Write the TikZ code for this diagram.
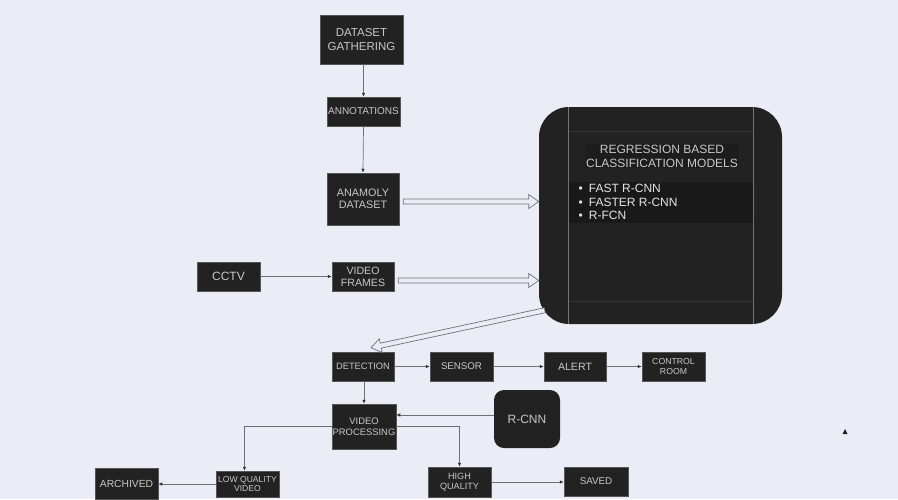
\documentclass[tikz,border=0pt]{standalone}
\usepackage{fontspec}
\setmainfont{Liberation Sans}
\usetikzlibrary{arrows.meta,calc}

\definecolor{bgcol}{RGB}{236,236,246}
\definecolor{boxfill}{RGB}{34,34,34}
\definecolor{boxline}{RGB}{85,85,85}
\definecolor{boxtext}{RGB}{200,200,200}
\definecolor{wirecol}{RGB}{112,112,112}
\definecolor{listfill}{RGB}{25,25,25}
\definecolor{titlefill}{RGB}{29,29,29}
\definecolor{splitcol}{RGB}{118,118,118}
\definecolor{bandline}{RGB}{52,52,52}

\newcommand{\fsz}[2]{\fontsize{#1}{#2}\selectfont}
\newcommand{\fatarrow}[2]{%
  \coordinate (fa-h) at ($(#2)!10pt!(#1)$);
  \draw[fatline] ($(#1)!2.5pt!90:(#2)$) -- ($(fa-h)!2.5pt!90:(#2)$) -- ($(fa-h)!7pt!90:(#2)$)
    -- (#2) -- ($(fa-h)!7pt!-90:(#2)$) -- ($(fa-h)!2.5pt!-90:(#2)$) -- ($(#1)!2.5pt!-90:(#2)$) -- cycle;}

\tikzset{
  box/.style={draw=boxline, line width=0.5pt, fill=boxfill, text=boxtext, align=center, inner sep=0pt},
  wire/.style={draw=wirecol, line width=0.7pt, -{Latex[length=4pt,width=3.5pt,color=black!80]}},
  fatline/.style={draw=wirecol, fill=bgcol, line width=0.7pt, line join=miter},
}

\begin{document}
\begin{tikzpicture}[x=1pt,y=-1pt]
	\fill[bgcol] (0,0) rectangle (898,499);
	\useasboundingbox (0,0) rectangle (898,499);

	\node[box, minimum width=83pt, minimum height=49pt, font=\fsz{11.5}{14}] (gather) at (361.5,39.5) {DATASET\\GATHERING};
	\node[box, minimum width=73pt, minimum height=29pt, font=\fsz{10}{12}] (annot) at (363.5,111.5) {ANNOTATIONS};
	\node[box, minimum width=72pt, minimum height=52pt, font=\fsz{10.8}{12.5}] (anomaly) at (363,199) {ANAMOLY\\DATASET};
	\node[box, minimum width=63pt, minimum height=29pt, font=\fsz{12}{14}] (cctv) at (228.5,276.5) {CCTV};
	\node[box, minimum width=62pt, minimum height=29pt, font=\fsz{10.6}{12}] (frames) at (363,276.5) {VIDEO\\FRAMES};

	\node[box, draw=none, rounded corners=30pt, minimum width=243pt, minimum height=217pt] (models) at (660.5,215.5) {};
	\fill[listfill] ($(models.north west)+(30,75)$) rectangle ($(models.north east)+(-29,116)$);
	\draw[bandline, line width=0.5pt] ($(models.north west)+(30,24)$) -- ($(models.north east)+(-29,24)$);
	\draw[bandline, line width=0.5pt] ($(models.south west)+(30,-23)$) -- ($(models.south east)+(-29,-23)$);
	\draw[splitcol, line width=0.7pt] ($(models.north west)+(30,0)$) -- ($(models.south west)+(30,0)$);
	\draw[splitcol, line width=0.7pt] ($(models.north east)+(-29,0)$) -- ($(models.south east)+(-29,0)$);
	\node[fill=titlefill, text=boxtext, align=center, inner sep=1pt, font=\fsz{12}{14}] (title) at (662,156) {REGRESSION BASED\\CLASSIFICATION MODELS};
	\node[anchor=west, text=black!10, align=left, inner sep=0pt, font=\fsz{12}{13.5}] (list) at (578.5,202) {\textbullet\hspace{6pt}FAST R-CNN\\\textbullet\hspace{6pt}FASTER R-CNN\\\textbullet\hspace{6pt}R-FCN};

	\node[box, minimum width=62pt, minimum height=29pt, font=\fsz{9.3}{11}] (detect) at (363,366.5) {DETECTION};
	\node[box, minimum width=63pt, minimum height=29pt, font=\fsz{9.7}{11}] (sensor) at (461.5,366.5) {SENSOR};
	\node[box, minimum width=62pt, minimum height=29pt, font=\fsz{10.6}{12}] (alert) at (575,366.5) {ALERT};
	\node[box, minimum width=63pt, minimum height=29pt, font=\fsz{8.7}{10}] (control) at (673.5,366.5) {CONTROL\\ROOM};
	\node[box, minimum width=64pt, minimum height=45pt, font=\fsz{9.4}{11}] (vproc) at (364,426.5) {VIDEO\\PROCESSING};
	\node[box, draw=none, rounded corners=10pt, minimum width=66pt, minimum height=58pt, font=\fsz{12}{14}] (rcnn) at (527,419) {R-CNN};
	\node[box, minimum width=63pt, minimum height=26pt, font=\fsz{8.6}{9.5}] (lowq) at (247.5,484) {LOW QUALITY\\VIDEO};
	\node[box, minimum width=63pt, minimum height=31pt, font=\fsz{10.3}{12}] (archived) at (126.5,483.5) {ARCHIVED};
	\node[box, minimum width=63pt, minimum height=30pt, font=\fsz{9.1}{9.7}] (highq) at (459.5,482) {HIGH\\QUALITY};
	\node[box, minimum width=64pt, minimum height=29pt, font=\fsz{9.8}{11}] (saved) at (596,481.5) {SAVED};

	\draw[wire] (annot.north |- gather.south) -- (annot.north);
	\draw[wire] (annot.south) -- (anomaly.north);
	\draw[wire] (cctv.east) -- (frames.west);
	\draw[wire] (detect.east) -- (sensor.west);
	\draw[wire] (sensor.east) -- (alert.west);
	\draw[wire] (alert.east) -- (control.west);
	\draw[wire] (vproc.north |- detect.south) -- (vproc.north);
	\coordinate (rin) at ($(rcnn.west)+(0,-4)$);
	\draw[wire] (rin) -- (rin -| vproc.east);
	\draw[wire] (vproc.west) -| ($(lowq.north)+(-3,0)$);
	\draw[wire] (vproc.east) -| (highq.north);
	\draw[wire] (lowq.west) -- (lowq.west -| archived.east);
	\draw[wire] (highq.east) -- (highq.east -| saved.west);

	\coordinate (a1s) at ($(anomaly.east)+(4,2.5)$);
	\coordinate (a1e) at (a1s -| models.west);
	\fatarrow{a1s}{a1e}
	\coordinate (a2s) at ($(frames.east)+(4,4)$);
	\coordinate (a2e) at (a2s -| models.west);
	\fatarrow{a2s}{a2e}
	\coordinate (a3s) at ($(models.south west)+(6,-14)$);
	\coordinate (a3e) at ($(detect.north)+(8,-4)$);
	\fatarrow{a3s}{a3e}

	\fill[boxfill] (842.5,434) -- (847.5,434) -- (845,429) -- cycle;
\end{tikzpicture}
\end{document}
